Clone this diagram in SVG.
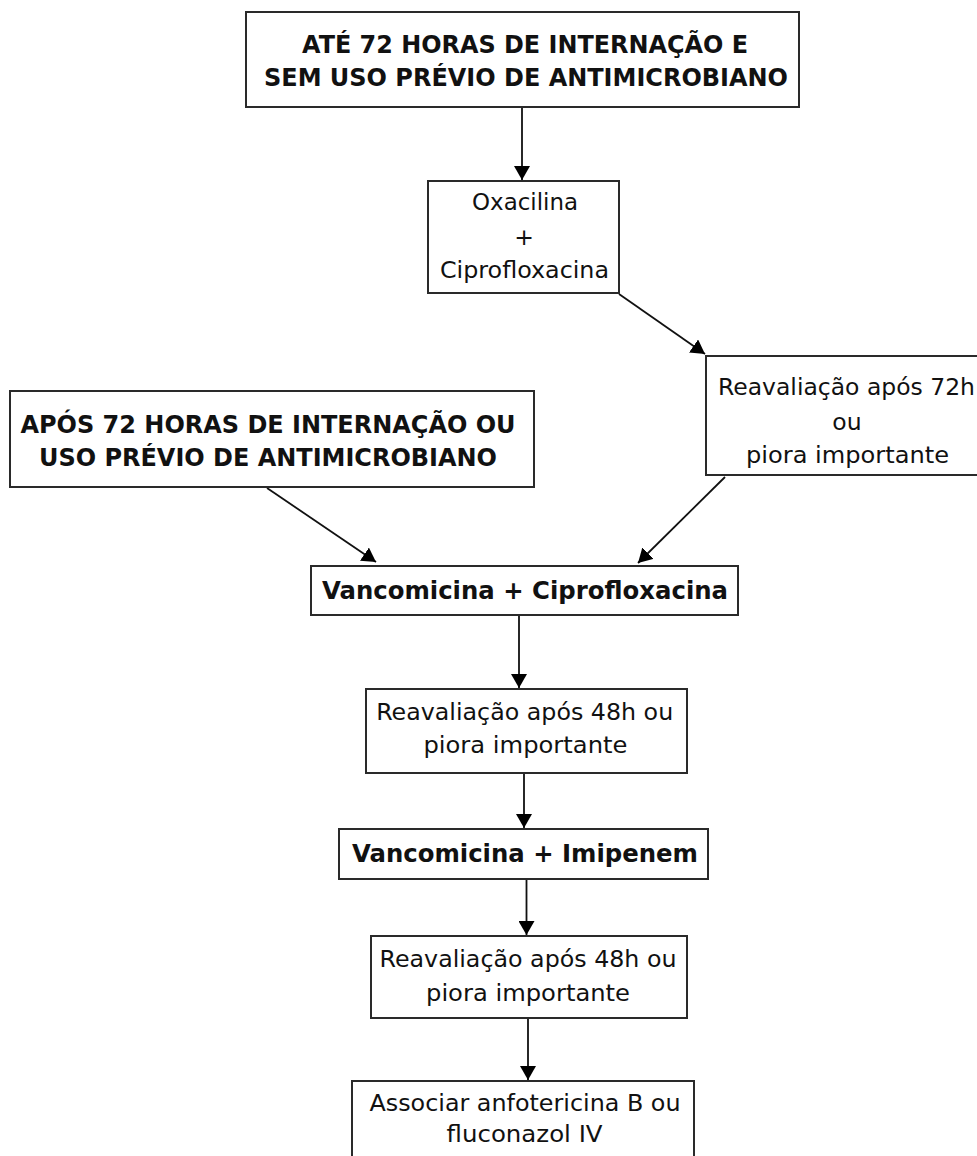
<svg xmlns="http://www.w3.org/2000/svg" width="977" height="1156" viewBox="0 0 977 1156">
<defs>
<style>
.box{fill:#fff;stroke:#2a2a2a;stroke-width:2}
.t{font-family:"DejaVu Sans","Liberation Sans",sans-serif;font-size:23.5px;fill:#111;text-anchor:middle}
.b{font-family:"DejaVu Sans","Liberation Sans",sans-serif;font-size:24px;font-weight:bold;fill:#111;text-anchor:middle}
.c{fill:none;stroke:#111;stroke-width:1.8}
</style>
<marker id="a" viewBox="0 0 14 16" refX="14" refY="8" markerWidth="14" markerHeight="16" markerUnits="userSpaceOnUse" orient="auto">
<path d="M0,0 L14,8 L0,16 Z" fill="#000"/>
</marker>
</defs>
<rect width="977" height="1156" fill="#fff"/>
<g id="connectors">
<line class="c" x1="522" y1="107" x2="522" y2="180" marker-end="url(#a)"/>
<line class="c" x1="619" y1="294" x2="705" y2="354" marker-end="url(#a)"/>
<line class="c" x1="267" y1="488" x2="376" y2="562" marker-end="url(#a)"/>
<line class="c" x1="725" y1="477" x2="638" y2="563" marker-end="url(#a)"/>
<line class="c" x1="519" y1="616" x2="519" y2="688" marker-end="url(#a)"/>
<line class="c" x1="524" y1="773" x2="524" y2="828" marker-end="url(#a)"/>
<line class="c" x1="526.5" y1="879" x2="526.5" y2="935" marker-end="url(#a)"/>
<line class="c" x1="528" y1="1018" x2="528" y2="1080" marker-end="url(#a)"/>
</g>
<g id="n1">
<rect class="box" x="246" y="12" width="553" height="95"/>
<text class="b" x="525" y="53" textLength="446" lengthAdjust="spacingAndGlyphs">ATÉ 72 HORAS DE INTERNAÇÃO E</text>
<text class="b" x="526" y="86" textLength="524" lengthAdjust="spacingAndGlyphs">SEM USO PRÉVIO DE ANTIMICROBIANO</text>
</g>
<g id="n2">
<rect class="box" x="428" y="181" width="191" height="112"/>
<text class="t" x="525" y="210" textLength="106" lengthAdjust="spacingAndGlyphs">Oxacilina</text>
<text class="t" x="524" y="245">+</text>
<text class="t" x="524.5" y="278" textLength="169" lengthAdjust="spacingAndGlyphs">Ciprofloxacina</text>
</g>
<g id="n3">
<rect class="box" x="706" y="356" width="284" height="119"/>
<text class="t" x="846.5" y="395" textLength="257" lengthAdjust="spacingAndGlyphs">Reavaliação após 72h</text>
<text class="t" x="847" y="430">ou</text>
<text class="t" x="847.5" y="463" textLength="203" lengthAdjust="spacingAndGlyphs">piora importante</text>
</g>
<g id="n4">
<rect class="box" x="10" y="391" width="524" height="96"/>
<text class="b" x="268" y="433" textLength="495" lengthAdjust="spacingAndGlyphs">APÓS 72 HORAS DE INTERNAÇÃO OU</text>
<text class="b" x="268" y="466" textLength="458" lengthAdjust="spacingAndGlyphs">USO PRÉVIO DE ANTIMICROBIANO</text>
</g>
<g id="n5">
<rect class="box" x="311" y="566" width="427" height="49"/>
<text class="b" x="525" y="599" textLength="406" lengthAdjust="spacingAndGlyphs">Vancomicina + Ciprofloxacina</text>
</g>
<g id="n6">
<rect class="box" x="366" y="689" width="321" height="84"/>
<text class="t" x="524.7" y="720" textLength="297" lengthAdjust="spacingAndGlyphs">Reavaliação após 48h ou</text>
<text class="t" x="525.4" y="753" textLength="204" lengthAdjust="spacingAndGlyphs">piora importante</text>
</g>
<g id="n7">
<rect class="box" x="339" y="829" width="369" height="50"/>
<text class="b" x="525" y="862" textLength="346" lengthAdjust="spacingAndGlyphs">Vancomicina + Imipenem</text>
</g>
<g id="n8">
<rect class="box" x="371" y="936" width="316" height="82"/>
<text class="t" x="528" y="967" textLength="297" lengthAdjust="spacingAndGlyphs">Reavaliação após 48h ou</text>
<text class="t" x="528" y="1001" textLength="204" lengthAdjust="spacingAndGlyphs">piora importante</text>
</g>
<g id="n9">
<rect class="box" x="352" y="1081" width="342" height="90"/>
<text class="t" x="525" y="1111" textLength="311" lengthAdjust="spacingAndGlyphs">Associar anfotericina B ou</text>
<text class="t" x="524.6" y="1142" textLength="156" lengthAdjust="spacingAndGlyphs">fluconazol IV</text>
</g>
</svg>
